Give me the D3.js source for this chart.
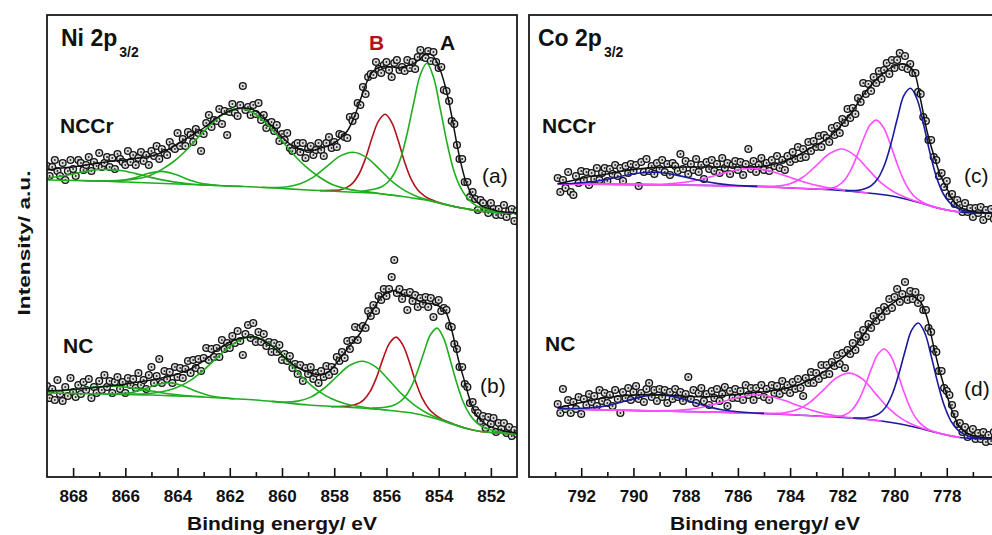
<!DOCTYPE html>
<html>
<head>
<meta charset="utf-8">
<script src="https://cdn.jsdelivr.net/npm/d3@7"></script>
<style>
  body { margin: 0; background: #fff; }
  text { font-family: Arial, "Liberation Sans", sans-serif; fill: #111; }
</style>
</head>
<body>
<svg id="chart"></svg>
<script>
// ---- tick labels ----
const niMajor = [868, 866, 864, 862, 860, 858, 856, 854, 852];
const niMinor = [867, 865, 863, 861, 859, 857, 855, 853];
const coMajor = [792, 790, 788, 786, 784, 782, 780, 778];
const coMinor = [793, 791, 789, 787, 785, 783, 781, 779, 777];

// ---- measured points (0.1 eV steps) ----
const niStart = 869.0;
const coStart = 792.9;
const eStep = 0.1;

const niNccrCounts = [311,301,310,317,306,301,314,297,306,317,308,301,317,314,307,312,320,306,315,311,
  324,310,314,320,310,319,308,323,318,315,312,326,315,322,312,319,325,316,322,312,
  326,321,331,318,328,324,322,335,330,328,344,331,338,331,345,342,335,348,344,326,
  343,354,362,350,357,356,368,353,366,342,365,373,364,361,372,391,367,370,362,372,
  363,374,357,362,349,354,355,346,352,336,343,337,344,329,326,332,334,325,334,319,
  328,331,322,327,334,327,321,334,340,329,335,330,343,342,340,339,360,356,361,374,
  372,390,383,400,403,402,415,408,404,412,415,407,400,414,417,407,410,406,417,409,
  415,408,420,427,420,419,426,416,425,415,409,410,387,386,376,356,353,332,318,318,
  295,295,280,285,278,267,277,274,268,264,274,268,262,268,262,272,260,266,268,256,266];

const niNcCounts = [91,79,88,77,97,83,76,90,81,99,85,80,92,83,95,87,98,79,90,84,
  96,87,102,90,96,84,95,100,88,95,84,99,92,98,89,104,92,97,88,102,
  110,94,101,118,94,106,98,105,94,110,100,109,99,108,116,104,117,109,118,106,
  119,129,117,128,120,129,120,137,128,134,129,141,134,146,136,122,143,152,139,154,
  135,145,135,143,131,135,125,134,125,132,117,123,116,121,109,113,103,112,96,109,
  103,110,98,104,94,106,100,111,102,110,106,120,116,125,119,136,128,137,150,137,
  149,151,149,166,161,172,166,181,177,188,181,188,200,217,184,188,178,184,167,185,
  176,182,170,179,173,180,170,179,160,175,177,166,169,167,151,150,133,128,110,110,
  93,90,74,75,67,64,56,61,49,60,53,59,45,54,48,54,44,50,41,47,43];

const coNccrCounts = [299,285,297,289,305,285,282,301,294,306,297,305,292,304,298,309,297,304,309,296,
  308,303,312,301,309,296,311,304,313,306,312,291,315,305,318,306,311,303,314,308,
  317,305,313,302,314,311,306,323,308,316,303,313,307,318,305,312,298,315,308,317,
  306,313,304,319,309,314,303,312,316,307,315,302,313,328,308,316,305,312,319,307,
  314,306,317,311,321,309,317,307,321,315,325,318,330,319,328,320,335,326,336,330,
  341,330,342,339,335,349,342,351,344,358,354,368,359,369,363,379,375,394,383,393,
  386,400,394,406,398,407,414,403,417,409,417,424,410,421,408,413,404,404,385,383,
  360,356,337,337,320,317,301,304,290,296,281,283,273,277,272,265,274,265,269,260,
  269,264,270,257,267,261,268,258,266,260];

const coNcCounts = [73,64,88,68,77,64,75,68,80,63,78,72,83,75,81,71,87,76,84,74,
  82,71,87,78,64,85,79,89,77,85,91,78,84,75,88,94,80,87,76,88,
  80,87,74,85,78,88,80,85,76,83,100,78,87,74,84,89,76,83,72,86,
  79,88,76,83,90,71,86,79,88,79,86,77,92,82,89,77,89,82,92,80,
  88,77,92,84,91,83,96,87,92,84,95,88,98,89,81,99,94,105,94,104,
  98,112,102,112,103,115,111,122,113,124,109,127,123,134,127,142,135,147,140,153,
  149,161,156,166,160,170,166,178,169,180,188,175,183,195,177,186,178,185,174,179,
  167,167,149,145,128,125,106,106,89,86,82,72,63,53,54,45,50,40,46,48,
  38,44,38,45,35,42,36,45,37,41];

// ---- fitted envelopes [energy, intensity] ----
const niNccrFit = [[869,307],[868.75,308],[868.5,309],[868.25,309.5],[868,310],[867.75,311],[867.5,312],[867.25,313],[867,314],[866.75,315],[866.5,316],[866.25,316.5],[866,317],[865.75,318],[865.5,319],[865.25,320],[865,321],[864.75,323],[864.5,326],[864.25,329],[864,333],[863.75,337],[863.5,341],[863.25,345],[863,349],[862.75,354],[862.5,359],[862.25,363],[862,366],[861.75,368],[861.5,369],[861.25,368.5],[861,366],[860.75,361],[860.5,354],[860.25,347],[860,340],[859.75,334],[859.5,330],[859.25,327],[859,326.5],[858.75,327],[858.5,329],[858.25,331],[858,334],[857.75,339],[857.5,346],[857.25,359],[857,377],[856.75,395],[856.5,406],[856.25,410],[856,410],[855.75,410],[855.5,409],[855.25,411],[855,413],[854.75,417],[854.5,423],[854.25,422],[854,411],[853.75,391],[853.5,361],[853.25,326],[853,299],[852.75,283],[852.5,274],[852.25,270],[852,268],[851.75,266],[851.5,265],[851.25,264.5],[851,264]];
const niNcFit = [[869,86],[868.75,86.3],[868.5,86.6],[868.25,87],[868,87.5],[867.75,88],[867.5,88.6],[867.25,89.3],[867,90],[866.75,90.7],[866.5,91.3],[866.25,92],[866,93],[865.75,94],[865.5,95],[865.25,96],[865,97],[864.75,98.2],[864.5,99.5],[864.25,101],[864,103],[863.75,105.5],[863.5,108],[863.25,112],[863,116],[862.75,121],[862.5,127],[862.25,131],[862,135],[861.75,137.5],[861.5,139],[861.25,140],[861,140],[860.75,137],[860.5,133],[860.25,128],[860,122],[859.75,116],[859.5,111],[859.25,107.5],[859,105],[858.75,103],[858.5,102],[858.25,104.5],[858,111],[857.75,119.5],[857.5,128],[857.25,136],[857,144],[856.75,157],[856.5,168],[856.25,178],[856,184],[855.75,186.5],[855.5,184],[855.25,181.5],[855,179],[854.75,176],[854.5,174],[854.25,173.5],[854,171],[853.75,166],[853.5,147],[853.25,118],[853,95],[852.75,73],[852.5,60],[852.25,54],[852,50],[851.75,48],[851.5,46],[851.25,45],[851,44]];
const coNccrFit = [[792.9,293.4],[792.75,294],[792.5,295.5],[792.25,297],[792,298.5],[791.75,300],[791.5,301],[791.25,302],[791,303],[790.75,304.5],[790.5,305.5],[790.25,306.5],[790,307.5],[789.75,308.3],[789.5,309],[789,309.5],[788.5,309.7],[788,310],[787,310],[786,310],[785.5,310],[785.25,310.3],[785,311],[784.75,312],[784.5,313.5],[784.25,315.5],[784,318],[783.75,321],[783.5,324.5],[783.25,328.5],[783,332],[782.75,335.5],[782.5,340],[782.25,346],[782,353],[781.75,361],[781.5,370],[781.25,380],[781,389],[780.75,396],[780.5,402],[780.25,407.5],[780,411],[779.75,413],[779.5,412],[779.25,405],[779,377],[778.75,345],[778.5,322],[778.25,302],[778,289],[777.75,276],[777.5,270],[777.25,267],[777,265.5],[776.75,264.7],[776.5,264.2],[776,264]];
const coNcFit = [[792.9,69.4],[792.75,70],[792.5,71.5],[792.25,73],[792,74.5],[791.75,76],[791.5,77.3],[791.25,78.5],[791,79.5],[790.75,80.3],[790.5,81],[790.25,81.5],[790,82],[789.5,82.5],[789,82.3],[788.5,81.6],[788,80.8],[787.5,80.3],[787,80.5],[786.5,81.5],[786,82.7],[785.5,84],[785,85.3],[784.5,87],[784.25,88.3],[784,89.7],[783.75,91.5],[783.5,94],[783.25,97],[783,100.5],[782.75,104.5],[782.5,109],[782.25,114],[782,119],[781.75,124.5],[781.5,131],[781.25,140],[781,149],[780.75,157],[780.5,164],[780.25,170.5],[780,175],[779.75,179],[779.5,181],[779.25,180],[779,175],[778.75,159],[778.5,130],[778.25,104],[778,82],[777.75,63],[777.5,50],[777.25,44],[777,41.5],[776.75,40],[776.5,39.3],[776,39]];

// ---- fitted components [energy, intensity] ----
// Ni 2p3/2, NCCr
const niNccrBg = [[869,297],[868,296.5],[867,296],[866,295],[865,294],[864,293],[863,292],[862,291],[861,290],[860,288.5],[859,287],[858,285.7],[857,284.5],[856.5,284],[856,282.5],[855.5,281],[855,279],[854.5,277],[854,274],[853.5,271],[853,268.5],[852.5,266],[852,265],[851.5,264],[851,264]];
const niNccrA = [[857,285.5],[856.45,288],[856.2,290],[855.95,294.7],[855.7,303.5],[855.45,319.2],[855.2,344.2],[854.95,374.7],[854.7,402.5],[854.45,413.7],[854.2,399.9],[853.95,369.6],[853.7,336.6],[853.45,309.1],[853.2,291.4],[852.95,280.6],[852.7,273.9],[852.45,270],[851.95,266.3],[851.45,264.3],[851,264]];
const niNccrB = [[858.55,286.4],[858.05,286.6],[857.8,287],[857.55,289.1],[857.3,293.6],[857.05,303],[856.8,318.7],[856.55,339.2],[856.3,356.1],[856.05,362.7],[855.8,354.7],[855.55,336.4],[855.3,314.6],[855.05,297.6],[854.8,287],[854.55,281.2],[854.3,277.4],[854.05,275.1],[853.55,271.3],[853,268.5],[852.5,266],[852,265],[851.5,264],[851,264]];
const niNccrC = [[860.78,289.8],[860.28,289.5],[859.78,290.2],[859.28,293.4],[858.78,300.2],[858.28,310.7],[857.78,320.9],[857.28,324.8],[856.78,319.9],[856.28,308.1],[855.78,295.4],[855.28,286.1],[854.78,280.1],[854.28,276.3],[853.78,272.8],[853,268.5],[852,265],[851,264]];
const niNccrSat = [[867.6,296.3],[866.6,296.2],[866.1,296.7],[865.6,298.1],[865.1,301.1],[864.6,307.6],[864.1,316.5],[863.6,328.5],[863.1,342.8],[862.6,355.6],[862.1,365.2],[861.6,368.6],[861.1,364.2],[860.6,353.4],[860.1,339.4],[859.6,323.8],[859.1,310.6],[858.6,300.5],[858.1,292.8],[857.6,288.6],[857.1,286.2],[856.6,284.7],[856.1,282.8],[855.5,281]];
const niNccrS1 = [[867.1,296.1],[866.6,296],[866.1,296.8],[865.6,299.6],[865.1,303.7],[864.6,305.6],[864.1,302.7],[863.6,297.6],[863.1,293.8],[862.6,292],[862.1,291.1],[861.5,290.5]];
const niNccrS2 = [[869,299],[868.6,300.2],[868.1,302.5],[867.6,305.1],[867.1,307.2],[866.6,307.4],[866.1,306.3],[865.6,303.4],[865.1,300.1],[864.6,297.1],[864.1,294.9],[863.6,293.3],[863.1,292.3],[862.5,291.5]];

// Ni 2p3/2, NC
const niNcBg = [[869,84],[868,83.5],[867,83],[866,82.5],[865,82],[864,81],[863,80],[862,78.5],[861,77],[860,74.5],[859,72],[858,70.5],[857,69],[856.5,68],[856,67],[855.5,65.5],[855,64],[854.5,61],[854,57.5],[853.5,53],[853,49],[852.5,46],[852,44.5],[851.5,43.5],[851,43]];
const niNcA = [[856.56,69],[856.06,69.8],[855.81,71],[855.56,73.9],[855.31,79.5],[855.06,89.7],[854.81,105.7],[854.56,125.1],[854.31,142.5],[854.06,148.9],[853.81,138.8],[853.56,117.2],[853.31,94.3],[853.06,75],[852.81,62.5],[852.56,54.6],[852.31,50],[852.06,47.4],[851.56,44.5],[851,43]];
const niNcB = [[858.13,70.3],[857.63,70.7],[857.38,71.1],[857.13,72.9],[856.88,76.9],[856.63,85.3],[856.38,99.6],[856.13,118.4],[855.88,133.9],[855.63,139.9],[855.38,132.4],[855.13,115.5],[854.88,95.1],[854.63,78.8],[854.38,68.3],[854.13,62.1],[853.88,57.9],[853.63,54.9],[853.13,50],[852.5,46],[852,44.5],[851.5,43.5],[851,43]];
const niNcC = [[860.4,75.7],[859.9,75],[859.4,75.9],[858.9,79.9],[858.4,88.5],[857.9,100.5],[857.4,111.7],[856.9,115.8],[856.4,109.9],[855.9,96.8],[855.4,82.6],[854.9,71.4],[854.4,63.2],[853.9,57.4],[853.4,52.4],[853,49]];
const niNcSat = [[866.5,82.8],[865.6,82.9],[865.1,83.5],[864.6,85.3],[864.1,88.7],[863.6,95.1],[863.1,104.7],[862.6,116.6],[862.1,128.5],[861.6,137.1],[861.1,140.2],[860.6,135.2],[860.1,124.6],[859.6,110.7],[859.1,96.9],[858.6,85.9],[858.1,78.3],[857.6,73.6],[857.1,70.7],[856.6,68.8],[856,67]];
const niNcS1 = [[866.8,82.9],[866.3,83.1],[865.8,84.2],[865.3,87.7],[864.8,92.2],[864.3,94.3],[863.8,91.2],[863.3,85.8],[862.8,81.5],[862.3,79.4],[861.8,78.2]];
const niNcS2 = [[869,85.2],[868.5,86.1],[868,87.5],[867.5,89.1],[867,90.4],[866.5,90.8],[866,89.9],[865.5,88.1],[865,86],[864.5,83.8],[864,82.2],[863.5,81],[863,80.2]];

// Co 2p3/2, NCCr
const coNccrBg = [[792.9,293],[791,292.7],[789,292.2],[787,291.5],[786,291],[785,290.5],[784,289],[783,288],[782,286.5],[781,284],[780.5,282.5],[780,280.5],[779.5,277.5],[779,274],[778.5,270],[778,267],[777.5,265],[777,264],[776,264]];
const coNccrMain = [[781.89,286.5],[781.39,286.6],[781.14,288.2],[780.89,291.4],[780.64,298.5],[780.39,311.8],[780.14,332.9],[779.89,358.8],[779.64,381.6],[779.39,388.7],[779.14,378],[778.89,352.6],[778.64,323.7],[778.39,299.5],[778.14,283.5],[777.89,274.4],[777.64,269.5],[777.39,266.5],[776.89,264.3],[776,264]];
const coNccrSat = [[792.9,293.2],[792.26,293.7],[791.76,294.7],[791.26,296.5],[790.76,299],[790.26,301.8],[789.76,304],[789.26,304.8],[788.76,303.8],[788.26,301.4],[787.76,298.4],[787.26,295.5],[786.76,293.4],[786.26,292],[785.76,291.1],[785.26,290.6]];
const coNccrP1 = [[792.9,293],[789,292.2],[786,291],[784,289],[783.19,288.2],[782.69,287.9],[782.44,288.7],[782.19,290.9],[781.94,296.2],[781.69,306.2],[781.44,321.1],[781.19,338.2],[780.94,351.9],[780.69,356.9],[780.44,350.2],[780.19,334.9],[779.94,316.1],[779.69,299.4],[779.44,287],[779.19,279.4],[778.94,275],[778.69,271.9],[778.19,268.2],[777.5,265]];
const coNccrP2 = [[792.9,293],[789,292.2],[787,291.5],[786,291],[785,290.7],[784.5,291],[784,293.2],[783.5,300],[783,311.4],[782.5,323.2],[782,328],[781.5,321.2],[781,307.4],[780.5,293.8],[780,284.7],[779.5,278.7],[779,274.2],[778.5,270],[778,267],[777.5,265]];
const coNccrP3 = [[792.9,293],[791,292.7],[789.4,292.6],[788.9,292.8],[788.4,293.7],[787.9,295.3],[787.4,297.8],[786.9,301.3],[786.4,304.9],[785.9,307.7],[785.4,308.6],[784.9,306.7],[784.4,303.1],[783.9,298.7],[783.4,294.5],[782.9,291.1],[782.4,288.7],[781.9,286.9],[781.4,285.2],[781,284]];

// Co 2p3/2, NC
const coNcBg = [[792.9,68.4],[791,67],[789,66],[787,65],[785,63.5],[783,61],[782,59.5],[781,57.5],[780,54],[779.5,51.5],[779,48.5],[778.5,45],[778,42],[777.5,39.5],[777,38.5],[776,38]];
const coNcMain = [[781.59,59],[781.09,59.3],[780.84,60.6],[780.59,63.4],[780.34,69.9],[780.09,82.7],[779.84,102.6],[779.59,126.6],[779.34,147.1],[779.09,154],[778.84,144],[778.59,120.2],[778.34,93.4],[778.09,70.9],[777.84,55.9],[777.59,47.4],[777.34,42.9],[777.09,40.3],[776.59,38.6],[776,38]];
const coNcSat = [[792.9,68.6],[792.5,68.4],[792,68.7],[791.5,69.6],[791,71.4],[790.5,74.6],[790,78.1],[789.5,81.1],[789,82],[788.5,80.6],[788,77.1],[787.5,73.1],[787,69.4],[786.5,66.8],[786,65.2],[785.5,64.2],[785,63.6]];
const coNcP1 = [[792.9,68.4],[789,66],[786,64.2],[784,62.5],[782.89,60.8],[782.39,60.4],[782.14,60.6],[781.89,62.3],[781.64,66.8],[781.39,76],[781.14,90.6],[780.89,108.1],[780.64,122.7],[780.39,128],[780.14,120.9],[779.89,104.4],[779.64,85],[779.39,68.5],[779.14,57.3],[778.89,50.9],[778.64,46.9],[778.39,44.6],[777.89,41.4],[777.5,39.5]];
const coNcP2 = [[792.9,68.4],[789,66],[787,65],[785.5,63.9],[784.72,63.6],[784.22,64.2],[783.72,67.4],[783.22,75.2],[782.72,87.2],[782.22,99.3],[781.72,103.9],[781.22,97.8],[780.72,83.1],[780.22,68.7],[779.72,58.1],[779.22,51.5],[778.72,46.9],[778,42],[777.5,39.5]];
const coNcP3 = [[792.9,68.4],[791,67],[789.2,66.3],[788.7,66.4],[788.2,66.9],[787.7,68.3],[787.2,70.8],[786.7,74.3],[786.2,78.2],[785.7,81.3],[785.2,82.2],[784.7,80.3],[784.2,76.4],[783.7,71.5],[783.2,67],[782.7,63.4],[782.2,60.9],[781.7,59.4],[781.2,58.1],[780.5,55.8]];

// ---- drawing ----
const width = 992;
const height = 535;
const green = "#1fae1f";
const red = "#b3121c";
const blue = "#1a1a9c";
const pink = "#ff4dff";

const svg = d3.select("#chart")
    .attr("width", width)
    .attr("height", height);

svg.append("rect").attr("width", width).attr("height", height).attr("fill", "#fff");

const plotTop = 15, plotBottom = 477;
const y = d3.scaleLinear().domain([0, 462]).range([plotBottom, plotTop]);

const panels = [
    {
        id: "ni", left: 47, right: 517, domain: [869, 851], major: niMajor, minor: niMinor,
        spectra: [
            {start: niStart, counts: niNccrCounts, fit: niNccrFit,
             parts: [[niNccrB, red], [niNccrBg, green], [niNccrS2, green], [niNccrS1, green], [niNccrSat, green], [niNccrC, green], [niNccrA, green]]},
            {start: niStart, counts: niNcCounts, fit: niNcFit,
             parts: [[niNcB, red], [niNcBg, green], [niNcS2, green], [niNcS1, green], [niNcSat, green], [niNcC, green], [niNcA, green]]}
        ]
    },
    {
        id: "co", left: 529, right: 999, domain: [794, 776], major: coMajor, minor: coMinor,
        spectra: [
            {start: coStart, counts: coNccrCounts, fit: coNccrFit,
             parts: [[coNccrBg, blue], [coNccrP3, pink], [coNccrP2, pink], [coNccrP1, pink], [coNccrSat, blue], [coNccrMain, blue]]},
            {start: coStart, counts: coNcCounts, fit: coNcFit,
             parts: [[coNcBg, blue], [coNcP3, pink], [coNcP2, pink], [coNcP1, pink], [coNcSat, blue], [coNcMain, blue]]}
        ]
    }
];

panels.forEach(function(p) {
    const x = d3.scaleLinear().domain(p.domain).range([p.left, p.right]);
    const g = svg.append("g");

    g.append("clipPath").attr("id", "clip-" + p.id)
        .append("rect")
        .attr("x", p.left).attr("y", plotTop)
        .attr("width", p.right - p.left).attr("height", plotBottom - plotTop);

    const plot = g.append("g").attr("clip-path", "url(#clip-" + p.id + ")");

    const line = d3.line()
        .x(d => x(d[0]))
        .y(d => y(d[1]))
        .curve(d3.curveCatmullRom.alpha(0.5));

    p.spectra.forEach(function(s) {
        const pts = s.counts.map((v, i) => [s.start - i * eStep, v]);

        const dots = plot.append("g")
            .selectAll("g")
            .data(pts)
            .join("g")
            .attr("transform", d => `translate(${x(d[0])},${y(d[1])})`);
        dots.append("circle")
            .attr("r", 3.4)
            .attr("fill", "#dcdcdc")
            .attr("stroke", "#151515")
            .attr("stroke-width", 1.35);
        dots.append("circle")
            .attr("r", 0.95)
            .attr("fill", "#2a2a2a");

        s.parts.forEach(function(part) {
            plot.append("path")
                .datum(part[0])
                .attr("d", line)
                .attr("fill", "none")
                .attr("stroke", part[1])
                .attr("stroke-width", 1.6);
        });

        plot.append("path")
            .datum(s.fit)
            .attr("d", line)
            .attr("fill", "none")
            .attr("stroke", "#111")
            .attr("stroke-width", 1.5);
    });

    // ticks point up into the frame
    const majorAxis = g.append("g")
        .attr("transform", `translate(0,${plotBottom})`)
        .call(d3.axisBottom(x).tickValues(p.major).tickSize(-9).tickPadding(13).tickFormat(d3.format("d")));
    const minorAxis = g.append("g")
        .attr("transform", `translate(0,${plotBottom})`)
        .call(d3.axisBottom(x).tickValues(p.minor).tickSize(-5).tickFormat(""));
    [majorAxis, minorAxis].forEach(function(a) {
        a.select(".domain").remove();
        a.selectAll("line").attr("stroke", "#111").attr("stroke-width", 1.6);
    });
    majorAxis.selectAll("text")
        .attr("fill", "#111")
        .style("font-size", "17px")
        .style("font-weight", "bold")
        .style("font-family", "Arial, 'Liberation Sans', sans-serif");

    g.append("rect")
        .attr("x", p.left).attr("y", plotTop)
        .attr("width", p.right - p.left).attr("height", plotBottom - plotTop)
        .attr("fill", "none")
        .attr("stroke", "#1a1a1a")
        .attr("stroke-width", 1.8);

    g.append("text")
        .attr("x", (p.left + p.right) / 2 + (p.id === "co" ? 1 : 0))
        .attr("y", 530)
        .attr("text-anchor", "middle")
        .attr("textLength", 190)
        .attr("lengthAdjust", "spacingAndGlyphs")
        .style("font-size", "19px")
        .style("font-weight", "bold")
        .text("Binding energy/ eV");
});

// panel titles and labels
function title(x0, yb, main) {
    const t = svg.append("text").attr("x", x0).attr("y", yb)
        .style("font-weight", "bold").style("font-size", "23px");
    t.append("tspan").text(main);
    t.append("tspan").attr("dx", 2).attr("dy", 11).style("font-size", "14px").text("3/2");
}
title(61, 46, "Ni 2p");
title(538, 46, "Co 2p");

const labels = [
    {x: 60, y: 133, t: "NCCr", w: "bold", s: 21},
    {x: 63, y: 353, t: "NC", w: "bold", s: 21},
    {x: 542, y: 133, t: "NCCr", w: "bold", s: 21},
    {x: 545, y: 351, t: "NC", w: "bold", s: 21},
    {x: 482, y: 183, t: "(a)", w: "normal", s: 21},
    {x: 480, y: 393, t: "(b)", w: "normal", s: 21},
    {x: 964, y: 183, t: "(c)", w: "normal", s: 21},
    {x: 964, y: 396, t: "(d)", w: "normal", s: 21},
    {x: 440, y: 50, t: "A", w: "bold", s: 21}
];
svg.selectAll(".lbl")
    .data(labels)
    .join("text")
    .attr("class", "lbl")
    .attr("x", d => d.x)
    .attr("y", d => d.y)
    .style("font-weight", d => d.w)
    .style("font-size", d => d.s + "px")
    .text(d => d.t);

svg.append("text")
    .attr("x", 369).attr("y", 50)
    .style("font-weight", "bold").style("font-size", "21px")
    .style("fill", red)
    .text("B");

svg.append("text")
    .attr("transform", "translate(30,243) rotate(-90)")
    .attr("text-anchor", "middle")
    .attr("textLength", 145)
    .attr("lengthAdjust", "spacingAndGlyphs")
    .style("font-weight", "bold")
    .style("font-size", "17px")
    .text("Intensity/ a.u.");
</script>
</body>
</html>
